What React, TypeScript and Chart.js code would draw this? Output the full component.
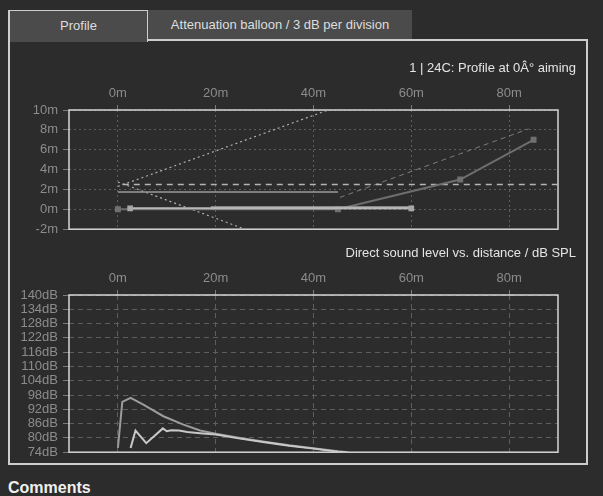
import React, { useEffect, useRef } from "react";
import { Chart, registerables } from "chart.js";

Chart.register(...registerables);

const FONT = "'Liberation Sans', Arial, sans-serif";

// Shared distance ticks (m)
const xTickValues = [0, 20, 40, 60, 80];
const xMin = -10;
const xMax = 90;

// Profile chart
const profileTitle = "1 | 24C: Profile at 0Â° aiming";
const profileYTicks = [-2, 0, 2, 4, 6, 8, 10];
const audienceX = [0, 45, 70, 85];
const audienceY = [0, 0, 3, 7];
const arrayLineX = [2.5, 60];
const arrayLineY = [0.1, 0.1];
const arrayThickX = [19, 60];
const arrayThickY = [0.15, 0.15];
const heightLineX = [0, 45];
const heightLineY = [1.75, 1.75];
const aimLineX = [1, 90];
const aimLineY = [2.5, 2.5];
const upperSplayX = [0, 43];
const upperSplayY = [2.3, 10];
const lowerSplayX = [0, 26];
const lowerSplayY = [2.75, -2];
const earLineX = [45.4, 84];
const earLineY = [1.2, 8.1];

// SPL chart
const splTitle = "Direct sound level vs. distance / dB SPL";
const splYTicks = [74, 80, 86, 92, 98, 104, 110, 116, 122, 128, 134, 140];
const splUpperX = [0, 0.9, 2.6, 5.2, 9.3, 13.4, 16.8, 20, 25, 30, 35, 40, 45, 47];
const splUpperY = [75.8, 95.1, 96.8, 94.0, 89.1, 85.6, 83.1, 81.8, 80.0, 78.4, 76.9, 75.7, 74.4, 74];
const splLowerX = [2.6, 3.6, 5.8, 9.2, 10, 10.9, 12.5, 14.2, 16.8, 20, 25, 30, 35, 40, 45, 47];
const splLowerY = [75.8, 83.1, 77.8, 84.0, 82.8, 83.2, 83.1, 82.5, 82.0, 81.4, 79.7, 78.2, 76.7, 75.5, 74.2, 74];

const pts = (xs: number[], ys: number[]) => xs.map((x, i) => ({ x, y: ys[i] }));

const framePlugin = {
  id: "frame",
  beforeDatasetsDraw(chart: any) {
    const { ctx, chartArea: a } = chart;
    ctx.save();
    ctx.strokeStyle = "#d6d6d6";
    ctx.lineWidth = 1.5;
    ctx.strokeRect(a.left, a.top, a.right - a.left, a.bottom - a.top);
    ctx.restore();
  },
};

function makeOptions(title: string, yTicks: number[], unit: string, dash: number[]) {
  const tickFont = { family: FONT, size: 13 };
  return {
    animation: false,
    responsive: false,
    maintainAspectRatio: false,
    events: [],
    layout: { padding: { left: 0, right: 27, top: 0, bottom: 4 } },
    plugins: {
      legend: { display: false },
      tooltip: { enabled: false },
      title: {
        display: true,
        text: title,
        align: "end",
        color: "#e4e4e4",
        font: { family: FONT, size: 13, weight: "normal" },
        padding: { top: 10.2, bottom: 4 },
      },
    },
    scales: {
      x: {
        type: "linear",
        position: "top",
        min: xMin,
        max: xMax,
        afterBuildTicks: (s: any) => {
          s.ticks = xTickValues.map((v) => ({ value: v }));
        },
        afterFit: (s: any) => {
          s.height = 30.2;
        },
        ticks: {
          color: "#8c8c8c",
          font: tickFont,
          padding: 4,
          autoSkip: false,
          maxRotation: 0,
          callback: (v: any) => v + "m",
        },
        grid: { color: "#5e5e5e", tickColor: "#7a7a7a", tickLength: 5, tickBorderDash: [] },
        border: { display: false, dash },
      },
      y: {
        type: "linear",
        position: "left",
        min: yTicks[0],
        max: yTicks[yTicks.length - 1],
        afterBuildTicks: (s: any) => {
          s.ticks = yTicks.map((v) => ({ value: v }));
        },
        afterFit: (s: any) => {
          s.width = 69;
        },
        ticks: {
          color: "#8c8c8c",
          font: tickFont,
          padding: 5,
          autoSkip: false,
          callback: (v: any) => v + unit,
        },
        grid: { color: "#5e5e5e", tickColor: "#7a7a7a", tickLength: 6, tickBorderDash: [] },
        border: { display: false, dash },
      },
      yR: {
        type: "linear",
        position: "right",
        afterFit: (s: any) => {
          s.width = 18;
        },
        ticks: { display: false },
        grid: { display: false },
        border: { display: false },
      },
    },
  };
}

const lineDs = (data: any[], color: string, width: number, extra: any = {}) => ({
  data,
  borderColor: color,
  backgroundColor: color,
  borderWidth: width,
  pointRadius: 0,
  tension: 0,
  fill: false,
  ...extra,
});

export default function App() {
  const topRef = useRef<HTMLCanvasElement | null>(null);
  const botRef = useRef<HTMLCanvasElement | null>(null);

  useEffect(() => {
    const top = new Chart(topRef.current as HTMLCanvasElement, {
      type: "line",
      data: {
        datasets: [
          lineDs(pts(arrayLineX, arrayLineY), "#b8b8b8", 2, {
            pointRadius: 4,
            pointStyle: "rect",
            pointBackgroundColor: "#a8a8a8",
            pointBorderWidth: 0,
          }),
          lineDs(pts(arrayThickX, arrayThickY), "#a4a4a4", 3),
          lineDs(pts(audienceX, audienceY), "#6e6e6e", 2, {
            pointRadius: 4.2,
            pointStyle: "rect",
            pointBackgroundColor: "#707070",
            pointBorderWidth: 0,
          }),
          lineDs(pts(heightLineX, heightLineY), "#9a9a9a", 1.5),
          lineDs(pts(aimLineX, aimLineY), "#b4b4b4", 1.5, { borderDash: [6, 5] }),
          lineDs(pts(upperSplayX, upperSplayY), "#b0b0b0", 1.2, { borderDash: [2, 3] }),
          lineDs(pts(lowerSplayX, lowerSplayY), "#b0b0b0", 1.2, { borderDash: [2, 3] }),
          lineDs(pts(earLineX, earLineY), "#7c7c7c", 1, { borderDash: [5, 4] }),
        ],
      },
      options: makeOptions(profileTitle, profileYTicks, "m", [2, 3]) as any,
      plugins: [framePlugin],
    });
    const bot = new Chart(botRef.current as HTMLCanvasElement, {
      type: "line",
      data: {
        datasets: [
          lineDs(pts(splLowerX, splLowerY), "#c8c8c8", 2),
          lineDs(pts(splUpperX, splUpperY), "#9c9c9c", 2),
        ],
      },
      options: makeOptions(splTitle, splYTicks, "dB", [5, 4]) as any,
      plugins: [framePlugin],
    });
    return () => {
      top.destroy();
      bot.destroy();
    };
  }, []);

  const bg = "#2c2c2c";
  return (
    <div
      style={{
        position: "fixed",
        left: 0,
        top: 0,
        width: 603,
        height: 496,
        background: bg,
        overflow: "hidden",
        fontFamily: FONT,
      }}
    >
      <div
        style={{
          position: "absolute",
          left: 8,
          top: 39,
          width: 576,
          height: 422,
          border: "2px solid #cdcdcd",
        }}
      />
      <div
        style={{
          position: "absolute",
          left: 148,
          top: 10,
          width: 264,
          height: 29,
          background: "#4b4b4b",
          color: "#dedede",
          fontSize: 13,
          lineHeight: "29px",
          textAlign: "center",
        }}
      >
        Attenuation balloon / 3 dB per division
      </div>
      <div
        style={{
          position: "absolute",
          left: 8,
          top: 10,
          width: 137,
          height: 31,
          background: "#4b4b4b",
          borderTop: "1px solid #cdcdcd",
          borderLeft: "2px solid #cdcdcd",
          borderRight: "1px solid #cdcdcd",
          color: "#dedede",
          fontSize: 13,
          lineHeight: "29px",
          textAlign: "center",
        }}
      >
        Profile
      </div>
      <canvas
        ref={topRef}
        width={603}
        height={192}
        style={{ position: "absolute", left: 0, top: 50, display: "block" }}
      />
      <canvas
        ref={botRef}
        width={603}
        height={230}
        style={{ position: "absolute", left: 0, top: 235, display: "block" }}
      />
      <div
        style={{
          position: "absolute",
          left: 8,
          top: 479,
          color: "#f0f0f0",
          fontSize: 16,
          fontWeight: "bold",
          lineHeight: "18px",
        }}
      >
        Comments
      </div>
    </div>
  );
}
